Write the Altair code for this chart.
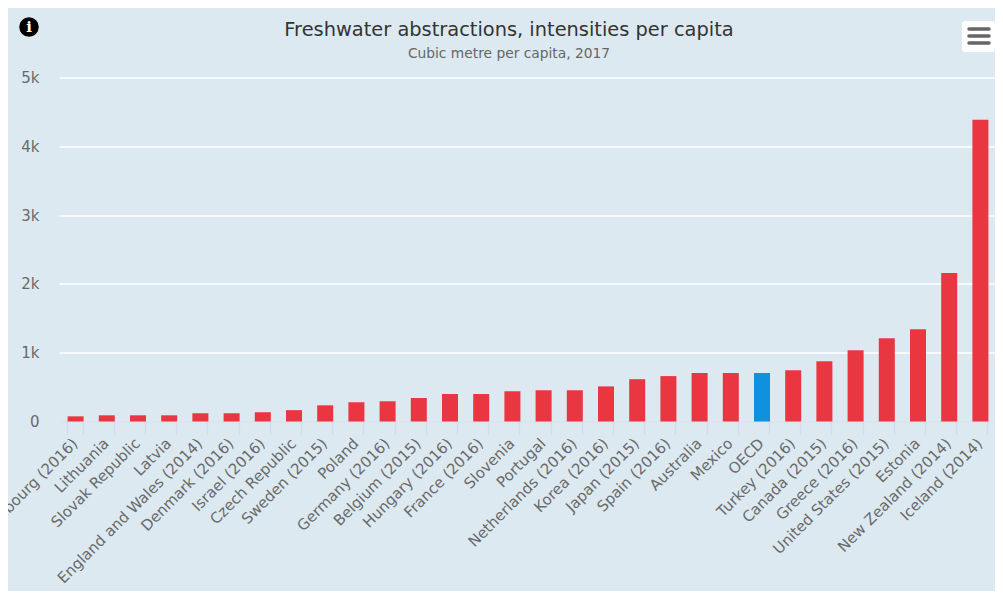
import altair as alt
import pandas as pd

countries = ["Luxembourg (2016)", "Lithuania", "Slovak Republic", "Latvia", "England and Wales (2014)",
             "Denmark (2016)", "Israel (2016)", "Czech Republic", "Sweden (2015)", "Poland", "Germany (2016)",
             "Belgium (2015)", "Hungary (2016)", "France (2016)", "Slovenia", "Portugal", "Netherlands (2016)",
             "Korea (2016)", "Japan (2015)", "Spain (2016)", "Australia", "Mexico", "OECD", "Turkey (2016)",
             "Canada (2015)", "Greece (2016)", "United States (2015)", "Estonia", "New Zealand (2014)", "Iceland (2014)"]
values = [75, 90, 90, 90, 120, 120, 135, 165, 235, 280, 295, 340, 400, 400, 440, 455, 455, 510, 615, 660,
          705, 705, 705, 745, 875, 1035, 1210, 1340, 2160, 4385]
groups = ["OECD" if c == "OECD" else "Country" for c in countries]
title_text = "Freshwater abstractions, intensities per capita"
subtitle_text = "Cubic metre per capita, 2017"

BG = "#dde9f1"
df = pd.DataFrame({"country": countries, "value": values, "group": groups})
one = pd.DataFrame({"a": [0]})

bars = alt.Chart(df).mark_bar(xOffset=1).encode(
    x=alt.X("country:N", sort=None, title=None,
            scale=alt.Scale(paddingInner=0.487, paddingOuter=0.2435),
            axis=alt.Axis(labelAngle=315, labelAlign="right", labelBaseline="middle", labelFontSize=15,
                          labelColor="#6a6a6a", labelFont="DejaVu Sans", labelOverlap=False, labelBound=False,
                          labelFlush=False, labelPadding=6, tickBand="extent", tickSize=13, tickColor="#d3dcec",
                          tickWidth=1.5, domainColor="#d3dcec", domainWidth=1.5, grid=False, labelLimit=400)),
    y=alt.Y("value:Q", title=None, scale=alt.Scale(domain=[0, 5000], nice=False),
            axis=alt.Axis(values=[0, 1000, 2000, 3000, 4000, 5000],
                          labelExpr="datum.value === 0 ? '0' : datum.value / 1000 + 'k'",
                          labelFontSize=15,
                          labelColor="#6a6a6a", labelFont="DejaVu Sans", labelPadding=20, ticks=False, domain=False,
                          gridColor="#ffffff", gridWidth=1.5, gridOpacity=1)),
    color=alt.Color("group:N", legend=None,
                    scale=alt.Scale(domain=["Country", "OECD"], range=["#ea3640", "#0f91dd"])),
)

OX, OY = 59, 77.5  # plot origin on the page, used for the decorations below

info = alt.Chart(one).mark_point(filled=True, color="#000000", opacity=1, size=380, shape="circle").encode(
    x=alt.value(29 - OX), y=alt.value(27 - OY))
info_i = alt.Chart(one).mark_text(text="i", font="DejaVu Serif", fontWeight="bold", fontSize=15, color="#ffffff").encode(
    x=alt.value(29 - OX), y=alt.value(27 - OY))
menu = alt.Chart(one).mark_rect(color="#ffffff", cornerRadius=3).encode(
    x=alt.value(962 - OX), x2=alt.value(995 - OX), y=alt.value(21 - OY), y2=alt.value(52 - OY))
lines = [alt.Chart(one).mark_rule(color="#666666", strokeWidth=3.5, strokeCap="round").encode(
    x=alt.value(969 - OX), x2=alt.value(989 - OX), y=alt.value(yy - OY)) for yy in (29, 36, 43)]
t1 = alt.Chart(one).mark_text(text=title_text, font="DejaVu Sans", fontSize=19.4, color="#333333", align="center", baseline="middle").encode(
    x=alt.value(509 - OX), y=alt.value(30 - OY))
t2 = alt.Chart(one).mark_text(text=subtitle_text, font="DejaVu Sans", fontSize=13.8, color="#666666", align="center", baseline="middle").encode(
    x=alt.value(509 - OX), y=alt.value(54 - OY))

chart = alt.layer(bars, info, info_i, menu, *lines, t1, t2).properties(
    width=936, height=344,
    background=BG,
    padding={"left": 51, "top": 69.5, "right": 0, "bottom": 169.5},
    autosize=alt.AutoSizeParams(type="none"),
).configure_view(stroke=None)

chart.save("out.html", embed_options={"renderer": "svg", "actions": False})
